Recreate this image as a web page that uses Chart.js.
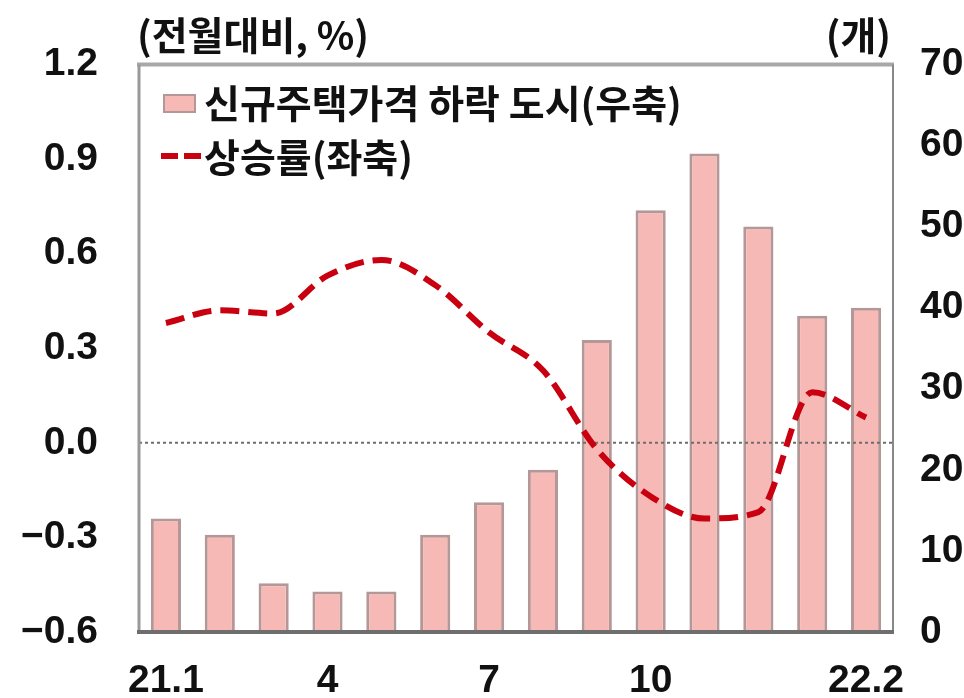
<!DOCTYPE html>
<html>
<head>
<meta charset="utf-8">
<script src="https://cdn.jsdelivr.net/npm/chart.js@4/dist/chart.umd.min.js"></script>
<style>
  html, body { margin: 0; padding: 0; background: #fff; }
  #wrap { width: 964px; height: 698px; }
</style>
</head>
<body>
<div id="wrap"><canvas id="myChart" width="964" height="698"></canvas></div>
<script>
// months, 21.1 .. 22.2
const months = ["21.1", "2", "3", "4", "5", "6", "7", "8", "9", "10", "11", "12", "22.1", "22.2"];
const shownMonths = ["21.1", "4", "7", "10", "22.2"];
// 신규주택가격 하락 도시 (개, right axis)
const fallingCities = [14, 12, 6, 5, 5, 12, 16, 20, 36, 52, 59, 50, 39, 40];
// 상승률 (전월대비 %, left axis)
const growthRate = [0.38, 0.42, 0.41, 0.53, 0.58, 0.50, 0.35, 0.23, -0.02, -0.17, -0.24, -0.22, 0.16, 0.08];
const leftTicks = [-0.6, -0.3, 0.0, 0.3, 0.6, 0.9, 1.2];
const rightTicks = [0, 10, 20, 30, 40, 50, 60, 70];

const barFill = "#f7b9b5";
const barEdge = "#b49797";
const lineRed = "#c8000f";
const numFont = { family: "'Liberation Sans', Arial, sans-serif", size: 39, weight: "bold" };
const krFont = "bold 39px 'Noto Sans CJK KR', sans-serif";

const extras = {
  id: "extras",
  afterDatasetDraw(chart, args) {
    if (args.meta.type !== "bar") return;
    // dotted zero line on the left axis
    const ctx = chart.ctx, area = chart.chartArea;
    const y0 = chart.scales.y.getPixelForValue(0);
    ctx.save();
    ctx.strokeStyle = "#6e6e6e";
    ctx.lineWidth = 2;
    ctx.setLineDash([3, 3]);
    ctx.beginPath();
    ctx.moveTo(area.left, y0);
    ctx.lineTo(area.right, y0);
    ctx.stroke();
    ctx.restore();
  },
  afterDraw(chart) {
    const ctx = chart.ctx, a = chart.chartArea;
    ctx.save();
    // frame
    ctx.lineCap = "butt";
    ctx.strokeStyle = "#a8a8a8"; ctx.lineWidth = 4;
    ctx.beginPath(); ctx.moveTo(a.left - 2, a.top); ctx.lineTo(a.right + 1, a.top); ctx.stroke();
    ctx.strokeStyle = "#999"; ctx.lineWidth = 3;
    ctx.beginPath(); ctx.moveTo(a.left, a.top); ctx.lineTo(a.left, a.bottom); ctx.stroke();
    ctx.strokeStyle = "#888"; ctx.lineWidth = 2;
    ctx.beginPath(); ctx.moveTo(a.right, a.top); ctx.lineTo(a.right, a.bottom); ctx.stroke();
    ctx.strokeStyle = "#6e6e6e"; ctx.lineWidth = 4;
    ctx.beginPath(); ctx.moveTo(a.left - 2, a.bottom); ctx.lineTo(a.right + 1, a.bottom); ctx.stroke();

    // axis unit titles
    ctx.fillStyle = "#111";
    ctx.font = krFont;
    ctx.textBaseline = "middle";
    ctx.textAlign = "left";
    ctx.fillText("(전월대비, %)", a.left - 2, 35);
    ctx.textAlign = "right";
    ctx.fillText("(개)", a.right - 2, 35);

    // legend
    const bar = chart.data.datasets[0], line = chart.data.datasets[1];
    ctx.textAlign = "left";
    ctx.fillStyle = bar.backgroundColor;
    ctx.fillRect(164, 95, 31, 17);
    ctx.strokeStyle = bar.borderColor; ctx.lineWidth = 2;
    ctx.strokeRect(164, 95, 31, 17);
    ctx.fillStyle = "#111";
    ctx.fillText(bar.label, 204, 103);

    ctx.strokeStyle = line.borderColor; ctx.lineWidth = 6;
    ctx.setLineDash([17, 6]);
    ctx.beginPath(); ctx.moveTo(161, 156); ctx.lineTo(202, 156); ctx.stroke();
    ctx.setLineDash([]);
    ctx.fillText(line.label, 204, 157);
    ctx.restore();
  }
};

new Chart(document.getElementById("myChart"), {
  data: {
    labels: months,
    datasets: [
      {
        type: "bar",
        label: "신규주택가격 하락 도시(우축)",
        data: fallingCities,
        yAxisID: "y1",
        backgroundColor: barFill,
        borderColor: barEdge,
        borderWidth: 3,
        barPercentage: 0.56,
        categoryPercentage: 1,
        order: 2
      },
      {
        type: "line",
        label: "상승률(좌축)",
        data: growthRate,
        yAxisID: "y",
        borderColor: lineRed,
        borderWidth: 6,
        borderDash: [19, 9],
        cubicInterpolationMode: "monotone",
        pointRadius: 0,
        fill: false,
        order: 1
      }
    ]
  },
  options: {
    responsive: false,
    animation: false,
    devicePixelRatio: 1,
    layout: { padding: { top: 61, left: 0, right: 0, bottom: 0 } },
    plugins: { legend: { display: false }, tooltip: { enabled: false } },
    scales: {
      x: {
        grid: { display: false, drawTicks: false },
        border: { display: false },
        ticks: {
          autoSkip: false, maxRotation: 0, padding: 26, color: "#111", font: numFont,
          callback(v) { const m = months[v]; return shownMonths.includes(m) ? m : ""; }
        },
        afterFit(s) { s.height = 66; }
      },
      y: {
        position: "left",
        min: leftTicks[0], max: leftTicks[leftTicks.length - 1],
        grid: { display: false, drawTicks: false },
        border: { display: false },
        afterBuildTicks(s) { s.ticks = leftTicks.map(v => ({ value: v })); },
        ticks: {
          padding: 41, color: "#111", font: numFont,
          callback(v) { return (v < 0 ? "\u2212" : "") + Math.abs(v).toFixed(1); }
        },
        afterFit(s) { s.width = 139; }
      },
      y1: {
        position: "right",
        min: rightTicks[0], max: rightTicks[rightTicks.length - 1],
        grid: { display: false, drawTicks: false },
        border: { display: false },
        afterBuildTicks(s) { s.ticks = rightTicks.map(v => ({ value: v })); },
        ticks: { padding: 27, color: "#111", font: numFont },
        afterFit(s) { s.width = 71; }
      }
    }
  },
  plugins: [extras]
});
</script>
</body>
</html>
